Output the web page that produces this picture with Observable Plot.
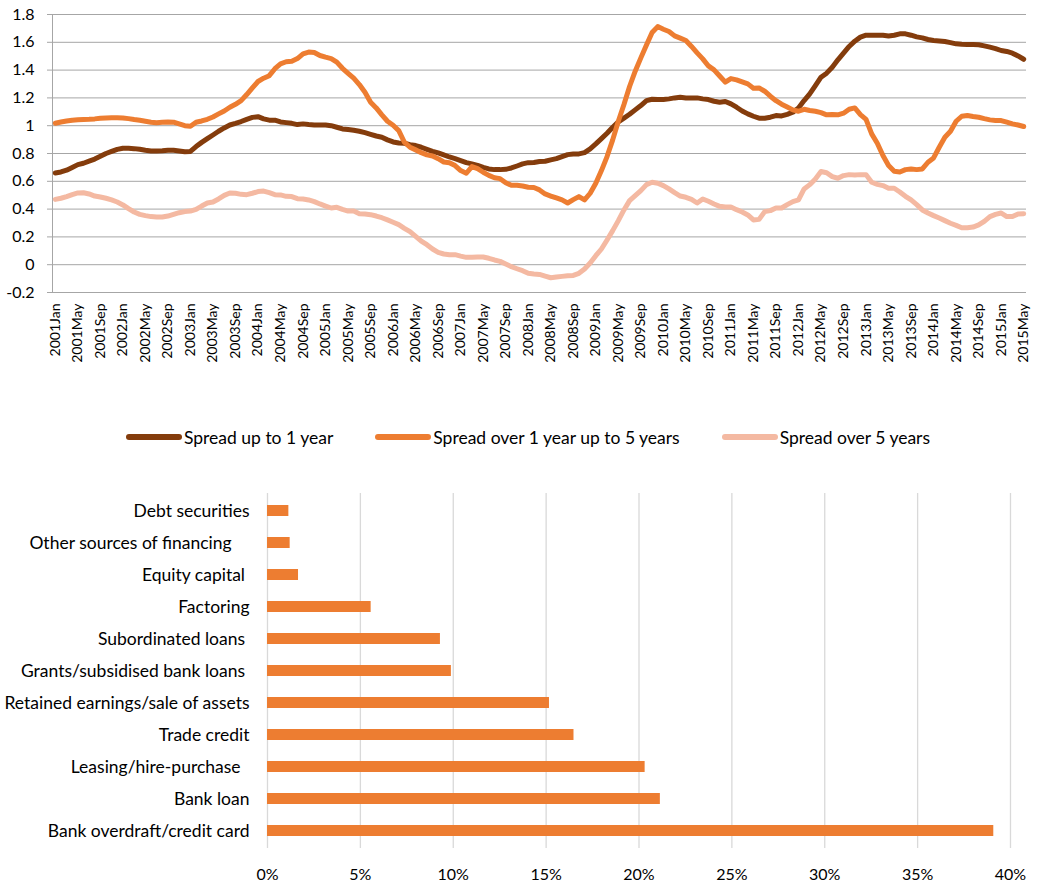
<!DOCTYPE html>
<html><head><meta charset="utf-8">
<script src="https://cdn.jsdelivr.net/npm/d3@7"></script>
<script src="https://cdn.jsdelivr.net/npm/@observablehq/plot@0.6"></script>
<style>
body{margin:0;background:#fff;font-family:Lato,sans-serif;}
#wrap{position:relative;width:1038px;height:884px;overflow:hidden;background:#fff;}
#line{position:absolute;left:0;top:0;}
#legend{position:absolute;left:126px;top:427px;height:20px;display:flex;align-items:center;font-size:17.5px;color:#000;white-space:nowrap;}
.item{display:flex;align-items:center;margin-right:42px;}
.sw{width:56px;height:6px;border-radius:3px;margin-right:2px;}
#bars{position:absolute;left:0;top:478px;}
</style></head>
<body><div id="wrap"><div id="line"></div><div id="legend"></div><div id="bars"></div></div>
<script>
// ---- Line chart data (monthly, 2001Jan .. 2015May) ----
const monthNames = ["Jan","Feb","Mar","Apr","May","Jun","Jul","Aug","Sep","Oct","Nov","Dec"];
const firstYear = 2001, monthCount = 173;
const months = [];
for (let k = 0; k < monthCount; k++) months.push(String(firstYear + Math.floor(k / 12)) + monthNames[k % 12]);

const seriesNames = ["Spread up to 1 year", "Spread over 1 year up to 5 years", "Spread over 5 years"];
const seriesColors = ["#843C0C", "#ED7D31", "#F4B9A2"];

const spreadUpTo1 = [
  0.66,0.667,0.68,0.70,0.72,0.73,0.745,0.76,0.78,0.80,0.815,0.83,
  0.838,0.838,0.835,0.83,0.823,0.818,0.818,0.82,0.823,0.823,0.818,0.813,
  0.815,0.85,0.88,0.907,0.933,0.96,0.984,1.005,1.017,1.03,1.046,1.06,
  1.065,1.049,1.04,1.04,1.027,1.022,1.017,1.008,1.013,1.008,1.005,1.005,
  1.005,1.0,0.989,0.977,0.972,0.967,0.96,0.95,0.938,0.926,0.917,0.898,
  0.883,0.876,0.874,0.864,0.857,0.845,0.83,0.816,0.804,0.79,0.775,0.763,
  0.749,0.734,0.725,0.715,0.70,0.689,0.684,0.684,0.686,0.696,0.71,0.725,
  0.734,0.735,0.742,0.744,0.754,0.763,0.778,0.792,0.797,0.797,0.806,0.833,
  0.869,0.907,0.946,0.989,1.027,1.054,1.082,1.114,1.145,1.18,1.19,1.188,
  1.188,1.193,1.2,1.205,1.2,1.2,1.2,1.193,1.188,1.176,1.169,1.174,
  1.157,1.133,1.106,1.085,1.068,1.054,1.054,1.061,1.073,1.07,1.082,1.097,
  1.128,1.181,1.229,1.289,1.349,1.378,1.421,1.474,1.522,1.57,1.608,1.637,
  1.651,1.651,1.651,1.651,1.646,1.651,1.661,1.661,1.651,1.639,1.632,1.62,
  1.613,1.61,1.606,1.598,1.589,1.586,1.584,1.584,1.582,1.574,1.565,1.555,
  1.541,1.534,1.522,1.502,1.478
];
const spread1to5 = [
  1.018,1.027,1.034,1.039,1.042,1.044,1.046,1.049,1.054,1.056,1.058,1.058,
  1.056,1.051,1.044,1.039,1.032,1.025,1.022,1.025,1.027,1.025,1.013,1.0,
  0.996,1.025,1.034,1.046,1.063,1.085,1.106,1.133,1.154,1.18,1.224,1.272,
  1.318,1.342,1.36,1.41,1.445,1.46,1.464,1.483,1.517,1.53,1.527,1.505,
  1.493,1.483,1.457,1.413,1.377,1.342,1.296,1.24,1.169,1.128,1.078,1.032,
  1.003,0.965,0.881,0.845,0.826,0.806,0.79,0.782,0.763,0.739,0.734,0.713,
  0.677,0.658,0.706,0.691,0.665,0.643,0.626,0.619,0.59,0.571,0.571,0.566,
  0.557,0.555,0.538,0.509,0.494,0.48,0.466,0.444,0.468,0.49,0.466,0.514,
  0.586,0.677,0.778,0.898,1.032,1.152,1.282,1.392,1.488,1.581,1.67,1.713,
  1.694,1.678,1.646,1.63,1.613,1.57,1.524,1.481,1.43,1.402,1.358,1.313,
  1.339,1.33,1.315,1.301,1.27,1.272,1.248,1.212,1.18,1.155,1.135,1.114,
  1.104,1.118,1.109,1.104,1.094,1.078,1.08,1.078,1.09,1.118,1.128,1.08,
  1.046,0.941,0.874,0.785,0.713,0.672,0.667,0.684,0.689,0.684,0.689,0.737,
  0.768,0.845,0.917,0.96,1.032,1.068,1.073,1.066,1.061,1.051,1.042,1.037,
  1.037,1.025,1.013,1.005,0.994
];
const spreadOver5 = [
  0.47,0.478,0.49,0.504,0.516,0.518,0.509,0.494,0.487,0.478,0.466,0.451,
  0.43,0.403,0.379,0.362,0.353,0.346,0.343,0.343,0.35,0.362,0.374,0.382,
  0.386,0.398,0.422,0.444,0.451,0.473,0.499,0.516,0.514,0.506,0.504,0.514,
  0.526,0.53,0.518,0.504,0.502,0.492,0.49,0.475,0.473,0.466,0.454,0.437,
  0.422,0.408,0.413,0.398,0.386,0.386,0.367,0.365,0.36,0.35,0.338,0.322,
  0.305,0.288,0.262,0.238,0.204,0.17,0.144,0.113,0.089,0.077,0.072,0.072,
  0.062,0.053,0.053,0.055,0.055,0.046,0.034,0.024,0.005,-0.014,-0.029,-0.043,
  -0.062,-0.067,-0.07,-0.082,-0.094,-0.089,-0.084,-0.079,-0.077,-0.062,-0.031,0.012,
  0.065,0.113,0.178,0.245,0.317,0.394,0.461,0.497,0.533,0.576,0.593,0.586,
  0.569,0.545,0.518,0.494,0.485,0.47,0.444,0.473,0.456,0.437,0.42,0.415,
  0.415,0.396,0.379,0.358,0.322,0.326,0.382,0.389,0.408,0.408,0.432,0.454,
  0.466,0.545,0.576,0.617,0.67,0.662,0.634,0.622,0.641,0.648,0.646,0.648,
  0.648,0.593,0.578,0.569,0.55,0.55,0.523,0.492,0.466,0.432,0.394,0.372,
  0.353,0.336,0.317,0.298,0.283,0.266,0.266,0.271,0.286,0.312,0.346,0.362,
  0.372,0.346,0.346,0.365,0.367
];
const yTicks = [-0.2,0,0.2,0.4,0.6,0.8,1,1.2,1.4,1.6,1.8];

// ---- Bar chart data ----
const categories = [
  "Debt securities",
  "Other sources of financing\u00A0\u00A0\u00A0\u00A0",
  "Equity capital\u00A0",
  "Factoring",
  "Subordinated loans\u00A0",
  "Grants/subsidised bank loans\u00A0",
  "Retained earnings/sale of assets",
  "Trade credit",
  "Leasing/hire-purchase\u00A0\u00A0",
  "Bank loan",
  "Bank overdraft/credit card"
];
const shares = [0.0115, 0.0122, 0.0167, 0.0558, 0.0931, 0.099, 0.1518, 0.165, 0.2033, 0.2115, 0.391];
const pctTicks = [0,0.05,0.1,0.15,0.2,0.25,0.3,0.35,0.4];

// ---- Build tables ----
const seriesValues = [spreadUpTo1, spread1to5, spreadOver5];
const rows = [];
seriesNames.forEach((s, k) => seriesValues[k].forEach((v, i) => rows.push({i, v, s})));
const xTickIdx = months.map((m, i) => i).filter(i => i % 4 === 0);

const lineChart = Plot.plot({
  width: 1038, height: 380,
  marginLeft: 52, marginRight: 12, marginTop: 14, marginBottom: 88,
  style: {fontFamily: "Lato, sans-serif", fontSize: "16px", color: "#000", background: "#fff"},
  x: {domain: [-0.5, months.length - 0.5], axis: null},
  y: {domain: [-0.2, 1.8], axis: null},
  color: {domain: seriesNames, range: seriesColors},
  marks: [
    Plot.gridY(yTicks.filter(d => d > -0.1), {stroke: "#a6a6a6", strokeOpacity: 1}),
    Plot.ruleY([-0.2], {stroke: "#a6a6a6"}),
    Plot.ruleX([-0.5], {stroke: "#a6a6a6"}),
    Plot.axisY(yTicks, {label: null, tickSize: 5, tickPadding: 13, stroke: "#a6a6a6", fill: "#000", fontSize: 16,
      tickFormat: d => String(+d.toFixed(1))}),
    Plot.axisX(xTickIdx, {label: null, tickSize: 0, tickPadding: 11, tickRotate: -90, fontSize: 14, fill: "#000",
      tickFormat: i => months[i]}),
    Plot.line(rows, {x: "i", y: "v", z: "s", stroke: "s", strokeWidth: 5,
      strokeLinejoin: "round", strokeLinecap: "round"})
  ]
});
document.getElementById("line").appendChild(lineChart);

const legend = document.getElementById("legend");
seriesNames.forEach((s, k) => {
  const it = document.createElement("div"); it.className = "item";
  const sw = document.createElement("div"); sw.className = "sw"; sw.style.background = seriesColors[k];
  const tx = document.createElement("span"); tx.textContent = s;
  it.appendChild(sw); it.appendChild(tx); legend.appendChild(it);
});

const barRows = categories.map((c, k) => ({c, v: shares[k]}));
const barChart = Plot.plot({
  width: 1038, height: 406,
  marginLeft: 267, marginRight: 28, marginTop: 15, marginBottom: 36,
  style: {fontFamily: "Lato, sans-serif", fontSize: "16px", color: "#000", background: "#fff"},
  x: {domain: [0, 0.4], axis: null},
  y: {domain: categories, paddingInner: 0.66, paddingOuter: 0.33, axis: null},
  marks: [
    Plot.gridX(pctTicks, {stroke: "#d9d9d9", strokeOpacity: 1, strokeWidth: 1.3}),
    Plot.barX(barRows, {x: "v", y: "c", fill: "#ED7D31"}),
    Plot.axisX(pctTicks, {label: null, tickSize: 0, tickPadding: 20, fontSize: 16, fill: "#000",
      tickFormat: d => Math.round(d * 100) + "%"}),
    Plot.axisY({label: null, tickSize: 0, tickPadding: 18, fontSize: 17.5, fill: "#000"})
  ]
});
document.getElementById("bars").appendChild(barChart);
</script>
</body></html>
